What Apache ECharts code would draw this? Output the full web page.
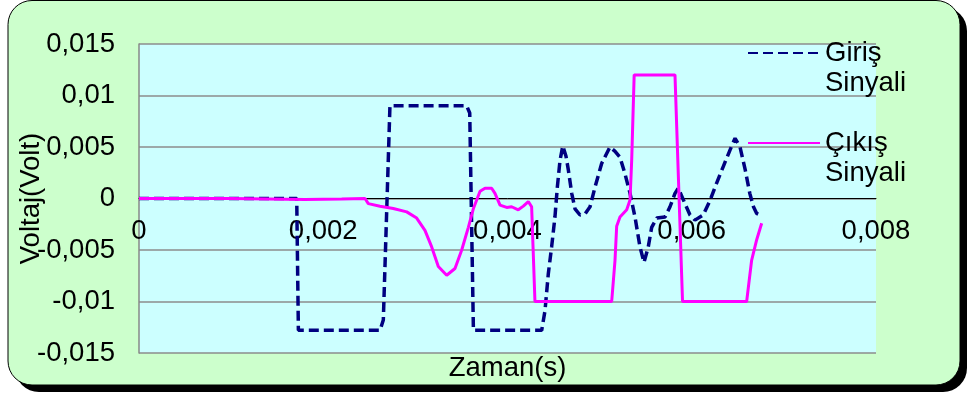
<!DOCTYPE html>
<html>
<head>
<meta charset="utf-8">
<script src="https://cdn.jsdelivr.net/npm/echarts@6/dist/echarts.min.js"></script>
<style>
  html, body { margin: 0; padding: 0; background: #ffffff; }
  #chart { width: 968px; height: 396px; }
</style>
</head>
<body>
<div id="chart"></div>
<script>
// Input signal (Giriş Sinyali): time in seconds, voltage in volts
const girisTime = [
  0, 0.001712, 0.001730, 0.002616, 0.002652, 0.002724, 0.003557, 0.003590, 0.003630,
  0.004371, 0.004407, 0.004443, 0.004479, 0.004515, 0.004541, 0.004570, 0.004600,
  0.004635, 0.004660, 0.004697, 0.004733, 0.004787, 0.004841, 0.004896, 0.004950,
  0.005022, 0.005112, 0.005165, 0.005221, 0.005275, 0.005330, 0.005384, 0.005438,
  0.005482, 0.005528, 0.005565, 0.005620, 0.005710, 0.005764, 0.005818, 0.005854,
  0.005927, 0.005981, 0.006035, 0.006125, 0.006198, 0.006270, 0.006342, 0.006415,
  0.006470, 0.006524, 0.006580, 0.006630, 0.006670, 0.006705, 0.006741
];
const girisVolt = [
  0, 0, -0.0128, -0.0128, -0.0118, 0.0090, 0.0090, 0.0083, -0.0128,
  -0.0128, -0.0109, -0.0073, -0.0047, -0.0018, 0.0011, 0.0037, 0.0051,
  0.0041, 0.0028, 0.0005, -0.0010, -0.0016, -0.0015, -0.0008, 0.0011,
  0.0034, 0.0050, 0.0046, 0.0040, 0.0024, 0.0005, -0.0018, -0.0047,
  -0.0062, -0.0047, -0.0028, -0.0019, -0.0018, -0.0008, 0.0005, 0.0010,
  -0.0005, -0.0016, -0.0021, -0.0016, -0.0002, 0.0015, 0.0031, 0.0047,
  0.00585, 0.0050, 0.0028, 0.0005, -0.0008, -0.00145, -0.0016
];

// Output signal (Çıkış Sinyali)
const cikisTime = [
  0, 0.001000, 0.001800, 0.002200, 0.002453, 0.002489, 0.002616, 0.002760, 0.002906,
  0.003014, 0.003104, 0.003177, 0.003249, 0.003340, 0.003430, 0.003503, 0.003575,
  0.003629, 0.003702, 0.003756, 0.003828, 0.003864, 0.003919, 0.003991, 0.004045,
  0.004117, 0.004172, 0.004226, 0.004262, 0.004298, 0.005131, 0.005167, 0.005185,
  0.005221, 0.005294, 0.005330, 0.005348, 0.005375, 0.005818, 0.005900, 0.006596,
  0.006650, 0.006705, 0.006759
];
const cikisVolt = [
  0, 0, -0.0001, -0.00005, 0, -0.0005, -0.00075, -0.00097, -0.0013,
  -0.0019, -0.0031, -0.0047, -0.0066, -0.00745, -0.0068, -0.0050, -0.0028,
  -0.0010, 0.0007, 0.0010, 0.0010, 0.0005, -0.00064, -0.00087, -0.0008,
  -0.0011, -0.00074, -0.0003, -0.0008, -0.0100, -0.0100, -0.0060, -0.0027,
  -0.0018, -0.0011, -0.00015, 0.0037, 0.0120, 0.0120, -0.0100, -0.0100,
  -0.0060, -0.0040, -0.0024
];

// Axis ticks
const xTicks = { min: 0, max: 0.008, step: 0.002 };
const yTicks = { min: -0.015, max: 0.015, step: 0.005 };

const seriesNames = ['Giriş\nSinyali', 'Çıkış\nSinyali'];

const FONT = 'Liberation Sans, Arial, sans-serif';
const FS = 27.5;
const commaNum = v => {
  const r = parseFloat(Number(v).toFixed(4));
  return r === 0 ? '0' : String(r).replace('.', ',');
};
const pairs = (ts, vs) => ts.map((t, i) => [t, vs[i]]);

// plot box
const GRID = { left: 139, right: 92, top: 44, bottom: 43 };
const plotH = 396 - GRID.top - GRID.bottom;
// the time axis crosses the voltage axis at 0 V (middle of the symmetric range)
const xAxisOffset = -plotH * (0 - yTicks.min) / (yTicks.max - yTicks.min);

const chart = echarts.init(document.getElementById('chart'), null, { renderer: 'canvas' });

chart.setOption({
  animation: false,
  backgroundColor: 'transparent',
  graphic: [
    { type: 'rect', z: -20, silent: true,
      shape: { x: 15, y: 7, width: 952, height: 385, r: 24 },
      style: { fill: '#000000' } },
    { type: 'rect', z: -19, silent: true,
      shape: { x: 8, y: 0.5, width: 952, height: 384.5, r: 24 },
      style: { fill: '#CCFFCC', stroke: '#000000', lineWidth: 1 } }
  ],
  grid: {
    left: GRID.left, right: GRID.right, top: GRID.top, bottom: GRID.bottom,
    outerBoundsMode: 'none',
    containLabel: false,
    show: true, backgroundColor: '#CCFFFF', borderWidth: 0
  },
  legend: {
    data: seriesNames,
    orient: 'vertical',
    left: 747, top: 8,
    padding: 0,
    itemGap: 0,
    itemWidth: 72,
    itemHeight: 2,
    selectedMode: false,
    itemStyle: { opacity: 0 },
    // a leading blank line keeps the sample line level with the first text line
    formatter: name => '\n' + name,
    textStyle: {
      fontFamily: FONT, fontSize: FS, color: '#000', lineHeight: 30
    }
  },
  xAxis: {
    type: 'value',
    position: 'bottom',
    offset: xAxisOffset,
    min: xTicks.min, max: xTicks.max, interval: xTicks.step,
    name: 'Zaman(s)', nameLocation: 'middle', nameGap: 156,
    nameMoveOverlap: false,
    nameTextStyle: { fontFamily: FONT, fontSize: FS, color: '#000' },
    axisLine: { onZero: false, lineStyle: { color: '#000', width: 1 } },
    axisTick: { show: false },
    splitLine: { show: false },
    axisLabel: {
      fontFamily: FONT, fontSize: FS, color: '#000', margin: 19,
      formatter: commaNum, showMinLabel: true, showMaxLabel: true
    }
  },
  yAxis: {
    type: 'value',
    min: yTicks.min, max: yTicks.max, interval: yTicks.step,
    name: 'Voltaj(Volt)', nameLocation: 'middle', nameGap: 94,
    nameMoveOverlap: false,
    nameTextStyle: { fontFamily: FONT, fontSize: FS, color: '#000' },
    axisLine: { show: true, onZero: false, lineStyle: { color: '#888', width: 1.5 } },
    axisTick: { show: false },
    splitLine: { show: true, lineStyle: { color: '#8c8c8c', width: 1.5 } },
    axisLabel: {
      fontFamily: FONT, fontSize: FS, color: '#000', margin: 24,
      formatter: commaNum
    }
  },
  series: [
    {
      name: seriesNames[0], type: 'line',
      data: pairs(girisTime, girisVolt),
      showSymbol: false, symbol: 'none', smooth: false,
      lineStyle: { color: '#000080', width: 3.5, type: [10, 5] },
      itemStyle: { color: '#000080' },
      z: 3
    },
    {
      name: seriesNames[1], type: 'line',
      data: pairs(cikisTime, cikisVolt),
      showSymbol: false, symbol: 'none', smooth: false,
      lineStyle: { color: '#FF00FF', width: 3 },
      itemStyle: { color: '#FF00FF' },
      z: 4
    }
  ]
});
</script>
</body>
</html>
